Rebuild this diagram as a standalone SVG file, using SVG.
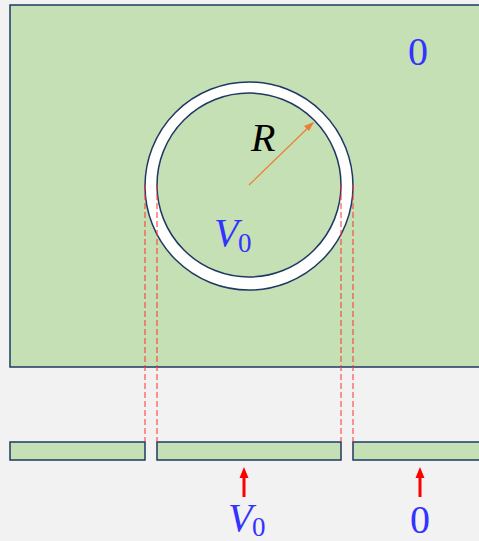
<svg xmlns="http://www.w3.org/2000/svg" width="479" height="541" viewBox="0 0 479 541">
<defs>
<style>
.plate{fill:#c5e0b4;stroke:#203864;stroke-width:1.5}
.ring{stroke:#203864;stroke-width:1.5}
.dash{stroke:#ff3030;stroke-width:1;stroke-dasharray:6 3;fill:none}
.lbl{font-family:"Liberation Serif","DejaVu Serif",serif;font-size:40px}
.sub{font-size:27px}
.blue{fill:#3333ff}
.up{stroke:#ff0000;stroke-width:3}
</style>
</defs>
<rect x="0" y="0" width="479" height="541" fill="#f2f2f2"/>
<g id="plane">
<rect class="plate" x="10" y="5" width="480" height="362"/>
</g>
<g id="ring">
<circle class="ring" cx="249" cy="186" r="104" fill="#ffffff"/>
<circle class="ring" cx="249" cy="185" r="92" fill="#c5e0b4"/>
</g>
<g id="strips">
<rect class="plate" x="10" y="442" width="135" height="18"/>
<rect class="plate" x="157" y="442" width="184" height="18"/>
<rect class="plate" x="353" y="442" width="140" height="18"/>
</g>
<g id="connectors">
<line class="dash" x1="145" y1="185" x2="145" y2="442"/>
<line class="dash" x1="157" y1="185" x2="157" y2="442"/>
<line class="dash" x1="341" y1="185" x2="341" y2="442"/>
<line class="dash" x1="353" y1="185" x2="353" y2="442"/>
<line x1="249" y1="185" x2="313" y2="123" stroke="#ed7d31" stroke-width="1.2"/>
<path d="M314,122 L304,126 L309,131 z" fill="#ed7d31"/>
<line class="up" x1="244" y1="497" x2="244" y2="476"/>
<path d="M244,467 L239.5,478 L248.5,478 z" fill="#ff0000"/>
<line class="up" x1="420" y1="497" x2="420" y2="476"/>
<path d="M420,467 L415.5,478 L424.5,478 z" fill="#ff0000"/>
</g>
<g id="labels">
<text class="lbl blue" x="408" y="65">0</text>
<text class="lbl" x="251" y="151" font-style="italic" fill="#000">R</text>
<text class="lbl blue" x="214" y="246" font-style="italic">V</text>
<text class="lbl blue sub" x="238" y="252">0</text>
<text class="lbl blue" x="228" y="531" font-style="italic">V</text>
<text class="lbl blue sub" x="252" y="536">0</text>
<text class="lbl blue" x="410" y="533">0</text>
</g>
</svg>
